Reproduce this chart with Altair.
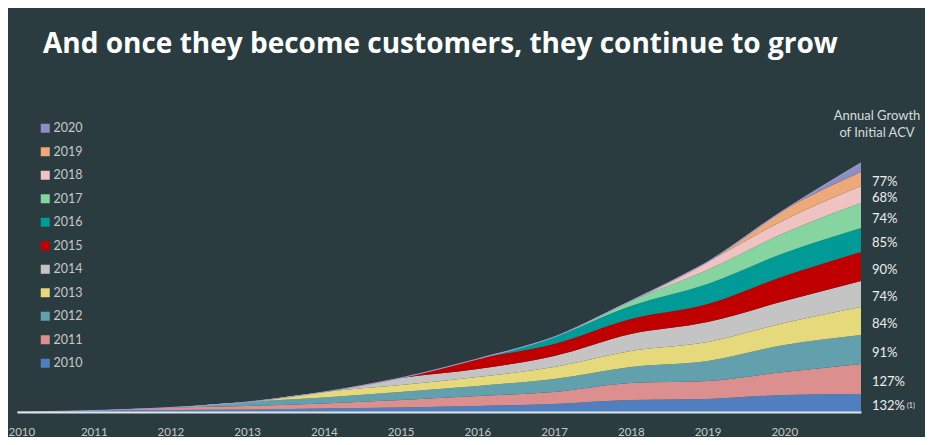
import altair as alt
import pandas as pd

# ---- data ----
years = list(range(2010, 2022))
cohorts = ["2010", "2011", "2012", "2013", "2014", "2015", "2016", "2017", "2018", "2019", "2020"]
c2010 = [0, 1.5, 2, 2.5, 3.5, 4.5, 6, 8, 12, 13, 17, 18]
c2011 = [0, 0, 2.5, 3.5, 5, 7.5, 10, 12, 17, 18, 23, 30]
c2012 = [0, 0, 0, 4, 6, 8, 10, 13, 16, 20, 27, 29]
c2013 = [0, 0, 0, 0, 5.5, 7, 9, 12, 16, 19, 22, 28]
c2014 = [0, 0, 0, 0, 0, 7, 8, 11, 17, 20, 22, 26]
c2015 = [0, 0, 0, 0, 0, 0, 10, 12, 15, 18, 25, 29]
c2016 = [0, 0, 0, 0, 0, 0, 0, 7, 13, 20, 23, 24]
c2017 = [0, 0, 0, 0, 0, 0, 0, 0, 5, 14, 20, 25]
c2018 = [0, 0, 0, 0, 0, 0, 0, 0, 0, 8, 13, 17]
c2019 = [0, 0, 0, 0, 0, 0, 0, 0, 0, 0, 10, 14]
c2020 = [0, 0, 0, 0, 0, 0, 0, 0, 0, 0, 0, 9]
series = [c2010, c2011, c2012, c2013, c2014, c2015, c2016, c2017, c2018, c2019, c2020]
growth = ["132%", "127%", "91%", "84%", "74%", "90%", "85%", "74%", "68%", "77%"]  # cohorts 2010..2019
colors = ["#4f7fbf", "#dc8f8f", "#62a0ad", "#e5d97b", "#c4c4c4", "#c00000",
          "#009b96", "#86d5a1", "#efc3c1", "#eda97a", "#8e8ec4"]
xticks = list(range(2010, 2021))

BG = "#2a3c3f"

rows = []
for i, (c, vals) in enumerate(zip(cohorts, series)):
    for y, v in zip(years, vals):
        rows.append({"year": y, "cohort": c, "idx": i, "value": v})
df = pd.DataFrame(rows)

# label anchors: middle of each cohort band at the last point
last = [s[-1] for s in series]
mids, cum = [], 0
for v in last:
    mids.append(cum + v / 2)
    cum += v
lab_df = pd.DataFrame({"year": [years[-1]] * len(growth), "mid": mids[:len(growth)], "text": growth})

legend_order = cohorts[::-1]
legend_colors = colors[::-1]

x_scale = alt.Scale(domain=[2010, 2021], nice=False, zero=False)
x_enc = alt.X("year:Q", scale=x_scale,
              axis=alt.Axis(values=xticks, format="d", title=None, labelFlush=True, labelFlushOffset=9,
                            ticks=False, grid=False, domainColor="#dde4e4", domainWidth=2,
                            labelColor="#c4c8c8", labelFont="Lato", labelFontSize=11.5,
                            labelPadding=14, zindex=1))
y_scale = alt.Scale(domain=[0, 250], nice=False)

areas = alt.Chart(df).mark_area(interpolate="monotone", opacity=1).encode(
    x=x_enc,
    y=alt.Y("value:Q", stack="zero", scale=y_scale, axis=None),
    color=alt.Color("cohort:N", scale=alt.Scale(domain=legend_order, range=legend_colors),
                    legend=alt.Legend(orient="none", legendX=22, legendY=-40, title=None,
                                      symbolType="square", symbolSize=81, symbolStrokeWidth=0,
                                      symbolOpacity=1, labelFont="Lato", labelFontSize=12.5,
                                      labelColor="#c8c8c8", rowPadding=10.5, labelOffset=2, padding=0)),
    order=alt.Order("idx:Q", sort="ascending"),
)

top = alt.Chart(df).transform_aggregate(total="sum(value)", groupby=["year"]).mark_line(
    interpolate="monotone", color="#9a9acb", strokeWidth=1.2
).encode(x=alt.X("year:Q"),
         y=alt.Y("total:Q", scale=y_scale, axis=None))

labels = alt.Chart(lab_df).mark_text(align="left", baseline="middle", dx=11, dy=3, fontSize=13,
                                     font="Lato", color="#eeeeee").encode(
    x=alt.X("year:Q"),
    y=alt.Y("mid:Q", scale=y_scale, axis=None), text="text:N")

sup = alt.Chart(pd.DataFrame({"t": ["(1)"]})).mark_text(
    align="left", baseline="middle", fontSize=7, font="Lato", color="#eeeeee"
).encode(x=alt.value(890), y=alt.value(244), text="t:N")

title = alt.Chart(pd.DataFrame({"t": ["And once they become customers, they continue to grow"]})).mark_text(
    align="left", baseline="middle", fontSize=28, fontWeight="bold", font="Open Sans", color="#ffffff"
).encode(x=alt.value(26), y=alt.value(-117), text="t:N")

head1 = alt.Chart(pd.DataFrame({"t": ["Annual Growth"]})).mark_text(
    align="center", baseline="middle", fontSize=13, font="Lato", color="#d8dcdc"
).encode(x=alt.value(860), y=alt.value(-46), text="t:N")
head2 = alt.Chart(pd.DataFrame({"t": ["of Initial ACV"]})).mark_text(
    align="center", baseline="middle", fontSize=13, font="Lato", color="#d8dcdc"
).encode(x=alt.value(860), y=alt.value(-29), text="t:N")

chart = alt.layer(areas, top, labels, sup, title, head1, head2).properties(
    width=844, height=250,
    autosize=alt.AutoSizeParams(type="none"),
    padding={"left": 9, "top": 154, "right": 64, "bottom": 25},
    background=BG,
).configure_view(stroke=None)

chart.save("out.html", embed_options={"renderer": "svg", "actions": False})
